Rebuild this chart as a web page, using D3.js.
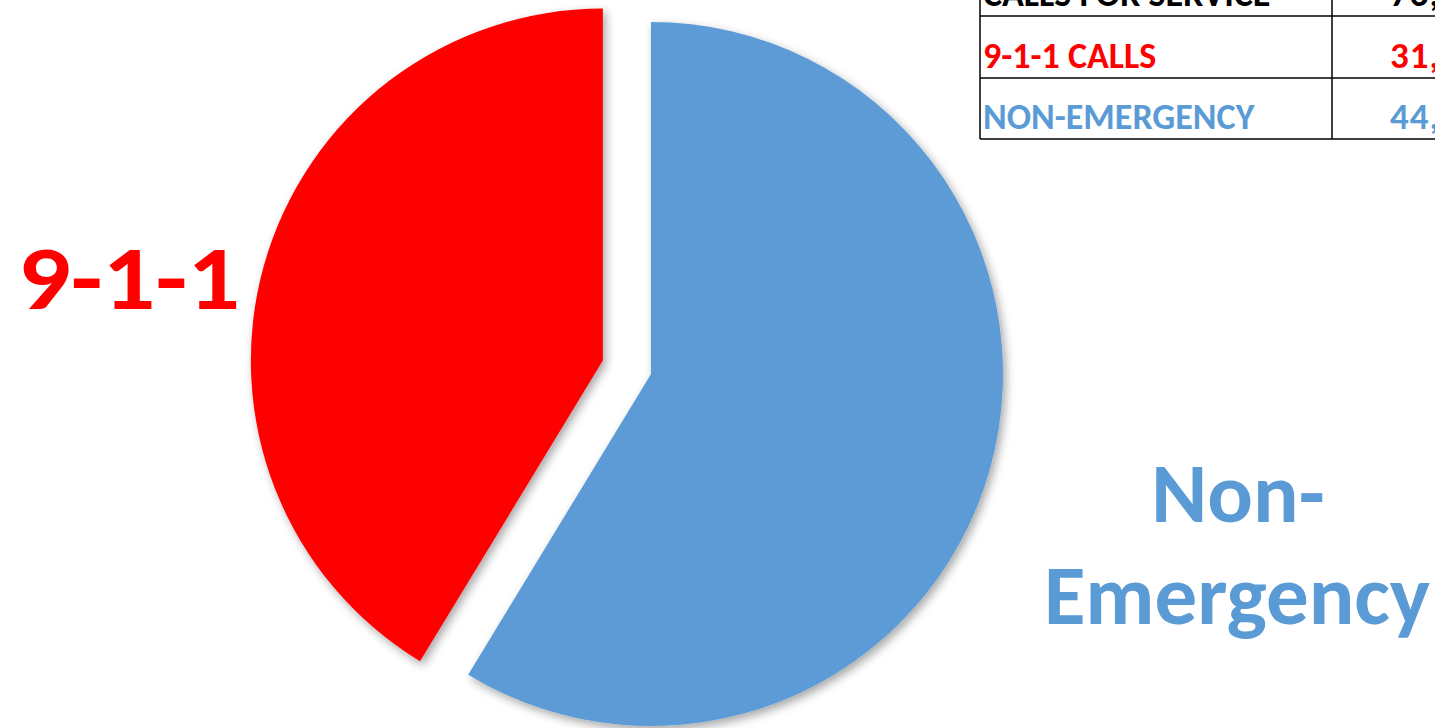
<!DOCTYPE html>
<html><head><meta charset="utf-8">
<script src="https://cdn.jsdelivr.net/npm/d3@7"></script>
<style>html,body{margin:0;padding:0;background:#fff;overflow:hidden}</style>
</head><body>
<svg id="c" width="1435" height="728"></svg>
<script>
const categories = ["Non-Emergency", "9-1-1"];
const values = [44796, 31528];
const colors = ["#5B9BD5", "#FF0000"];
const tableLabels = ["CALLS FOR SERVICE", "9-1-1 CALLS", "NON-EMERGENCY"];
const tableValues = ["76,324", "31,528", "44,796"];
const tableColors = ["#000000", "#FF0000", "#5B9BD5"];

const svg = d3.select("#c");
const FONT = "Carlito, Lato, 'Open Sans', sans-serif";
const defs = svg.append("defs");
const f = defs.append("filter").attr("id","sh").attr("x","-20%").attr("y","-20%").attr("width","140%").attr("height","140%");
f.append("feDropShadow").attr("dx",3).attr("dy",4).attr("stdDeviation",5).attr("flood-color","#000").attr("flood-opacity",0.35);

const cx = 651, cy = 374, R = 352, explode = 50;
const pie = d3.pie().sort(null).value(d => d)(values);
const arc = d3.arc().innerRadius(0).outerRadius(R);
const g = svg.append("g").attr("transform", `translate(${cx},${cy})`);
g.selectAll("path").data(pie).join("path")
  .attr("d", arc)
  .attr("fill", (d,i) => colors[i])
  .attr("filter","url(#sh)")
  .attr("transform", (d,i) => {
    if (i !== 1) return null;
    const a = (d.startAngle + d.endAngle)/2;
    return `translate(${Math.sin(a)*explode},${-Math.cos(a)*explode})`;
  });

// labels
svg.append("text").attr("x",18).attr("y",309)
  .attr("font-family",FONT).attr("font-weight","bold").attr("font-size",92)
  .attr("textLength",222).attr("lengthAdjust","spacingAndGlyphs")
  .attr("fill",colors[1]).text(categories[1]);
svg.append("text").attr("x",1238).attr("y",522).attr("text-anchor","middle")
  .attr("font-family",FONT).attr("font-weight","bold").attr("font-size",85)
  .attr("fill",colors[0]).text("Non-");
svg.append("text").attr("x",1237).attr("y",624).attr("text-anchor","middle")
  .attr("font-family",FONT).attr("font-weight","bold").attr("font-size",85)
  .attr("fill",colors[0]).text("Emergency");

// table
const tx = 980, tcol = 1332, tright = 1600;
const rowY = [-46, 16, 78, 139];
const tg = svg.append("g");
rowY.forEach(y => tg.append("line").attr("x1",tx).attr("x2",tright).attr("y1",y).attr("y2",y).attr("stroke","#000").attr("stroke-width",1.5));
tg.append("line").attr("x1",tx).attr("x2",tx).attr("y1",-50).attr("y2",139).attr("stroke","#000").attr("stroke-width",1.5);
tg.append("line").attr("x1",tcol).attr("x2",tcol).attr("y1",-50).attr("y2",139).attr("stroke","#000").attr("stroke-width",1.5);
tableLabels.forEach((t,i) => {
  const base = rowY[i+1] - 10;
  tg.append("text").attr("x",tx+3).attr("y",base).attr("font-family",FONT).attr("font-weight","bold")
    .attr("font-size",36).attr("fill",tableColors[i]).text(t);
  tg.append("text").attr("x",1390).attr("y",base).attr("font-family",FONT).attr("font-weight","bold")
    .attr("font-size",37).attr("letter-spacing",1).attr("fill",tableColors[i]).text(tableValues[i]);
});
</script>
</body></html>
